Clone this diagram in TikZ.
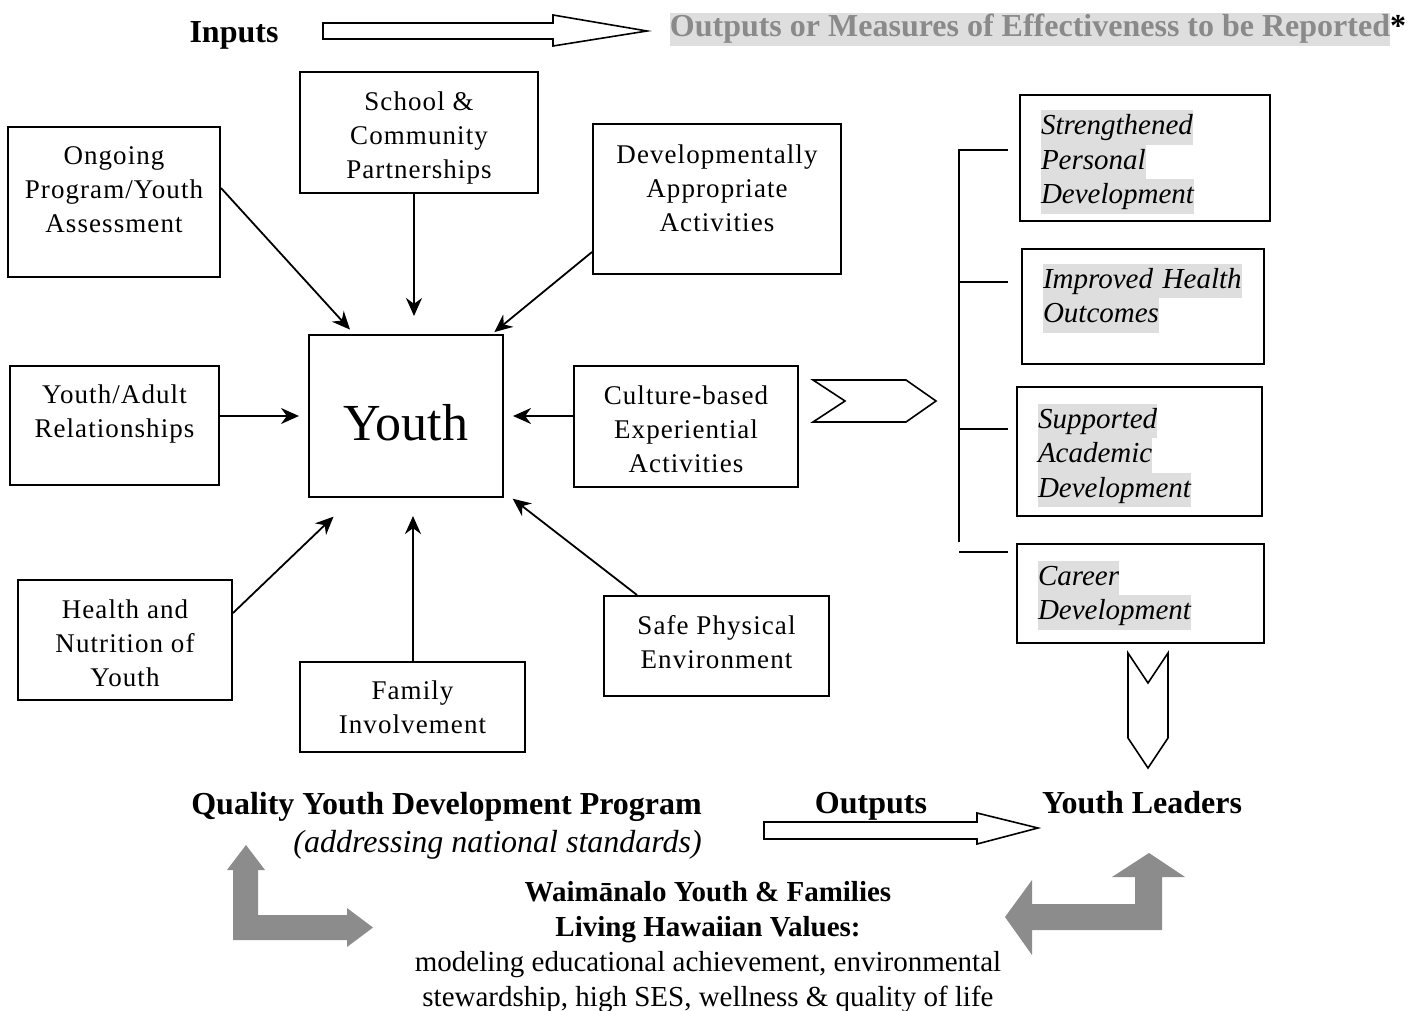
\documentclass[tikz,border=0pt]{standalone}
\usepackage{fontspec}
\setmainfont{Liberation Serif}
\newfontfamily\cardfont[LetterSpace=4]{Liberation Serif}
\usepackage{tikz}
\usetikzlibrary{arrows.meta}

\definecolor{hlgray}{RGB}{222,222,222}
\definecolor{titlegray}{RGB}{138,138,138}
\definecolor{bandgray}{RGB}{140,140,140}

\newcommand{\hlite}[1]{{\setlength{\fboxsep}{0pt}\colorbox{hlgray}{\strut#1}}}

\begin{document}
\begin{tikzpicture}[x=1pt, y=-1pt,
        card/.style={draw, line width=2pt, align=center, inner sep=0pt, font=\cardfont\fontsize{27}{34}\selectfont},
        goal/.style={draw, line width=2pt, align=left, inner xsep=21pt, inner ysep=0pt, font=\itshape\fontsize{29}{34.5}\selectfont},
        lifted/.style={text depth=#1},
        sunk/.style={text height=#1, text depth=0pt},
        feed/.style={line width=1.8pt, -{Stealth[length=18pt, width=16pt]}},
        hollow/.style={draw, line width=1.6pt, fill=white},
        band/.style={fill=bandgray},
        caption/.style={font=\bfseries\fontsize{32}{33}\selectfont}]
        \useasboundingbox (0,0) rectangle (1421,1011);

        \node[caption] (inputs) at (234,35) {Inputs};
        \node[caption, text=titlegray, inner sep=0pt] (measures) at (1038,30) {\hlite{Outputs or Measures of Effectiveness to be Reported}\textcolor{black}{*}};
        \draw[hollow] (323,23) -- (553,23) -- (553,15) -- (647,31) -- (553,46) -- (553,39) -- (323,39) -- cycle;

        % inputs around the youth box
        \node[card, minimum width=212pt, minimum height=150pt, lifted=25pt] (ongoing) at (114,202) {Ongoing\\Program/Youth\\Assessment};
        \node[card, minimum width=238pt, minimum height=121pt, sunk=92.4pt] (school) at (419,132.5) {School \&\\Community\\Partnerships};
        \node[card, minimum width=248pt, minimum height=150pt, lifted=22pt] (devel) at (717,199) {Developmentally\\Appropriate\\Activities};
        \node[card, minimum width=209pt, minimum height=119pt, lifted=28pt] (bonds) at (114.5,425.5) {Youth/Adult\\Relationships};
        \node[card, minimum width=194pt, minimum height=162pt, font=\rmfamily\fontsize{52}{60}\selectfont, text height=48pt, text depth=0pt] (youth) at (406,416) {Youth};
        \node[card, minimum width=224pt, minimum height=121pt, sunk=92.4pt] (culture) at (686,426.5) {Culture-based\\Experiential\\Activities};
        \node[card, minimum width=214pt, minimum height=120pt, sunk=93.5pt] (health) at (125,640) {Health and\\Nutrition of\\Youth};
        \node[card, minimum width=225pt, minimum height=90pt] (family) at (412.5,707) {Family\\Involvement};
        \node[card, minimum width=225pt, minimum height=100pt, lifted=8pt] (safe) at (716.5,646) {Safe Physical\\Environment};

        \draw[feed, shorten >=6pt] (ongoing.east |- 0,188) -- (youth.north -| 354,0);
        \draw[feed, shorten >=18pt] (school.south -| 414,0) -- (youth.north -| 414,0);
        \draw[feed, shorten >=3pt] (devel.west |- 0,252) -- (youth.north -| 492,0);
        \draw[feed, shorten >=9pt] (bonds.east |- 0,416) -- (youth.west |- 0,416);
        \draw[feed, shorten >=9pt] (culture.west |- 0,416) -- (youth.east |- 0,416);
        \draw[feed, shorten >=27pt] (health.east |- 0,613) -- (youth.south -| 353,0);
        \draw[feed, shorten >=18pt] (family.north -| 413,0) -- (youth.south -| 413,0);
        \draw[feed, shorten >=11pt] (safe.north -| 637,0) -- (youth.east |- 0,492);

        \draw[hollow] (813,380) -- (906,380) -- (936,401) -- (906,422) -- (813,422) -- (845,401) -- cycle;

        % outcomes
        \node[goal, text width=208pt, minimum height=126pt, lifted=71pt] (personal) at (1145,158) {\hlite{Strengthened}\\\hlite{Personal}\\\hlite{Development}};
        \node[goal, text width=200pt, minimum height=115pt, lifted=61pt] (wellbeing) at (1143,306.5) {\hlite{Improved Health}\\\hlite{Outcomes}};
        \node[goal, text width=203pt, minimum height=129pt, lifted=71pt] (academic) at (1139.5,451.5) {\hlite{Supported}\\\hlite{Academic}\\\hlite{Development}};
        \node[goal, text width=205pt, minimum height=99pt, lifted=41pt] (career) at (1140.5,593.5) {\hlite{Career}\\\hlite{Development}};

        \draw[line width=2pt] (1008,150) -- (959,150) -- (959,542);
        \draw[line width=2pt] (959,282) -- (1008,282);
        \draw[line width=2pt] (959,429) -- (1008,429);
        \draw[line width=2pt] (959,552) -- (1008,552);

        \draw[hollow] (1128,653) -- (1148,683) -- (1168,653) -- (1168,738) -- (1148,768) -- (1128,738) -- cycle;

        % bottom row
        \node[caption, align=right, anchor=east, inner sep=0pt, font=\fontsize{32}{38}\selectfont] (program) at (702,826) {\textbf{Quality Youth Development Program}\\\textit{(addressing national standards)}};
        \node[caption] (outputs) at (871,806) {Outputs};
        \node[caption] (leaders) at (1142,803) {Youth Leaders};
        \draw[hollow] (764,822) -- (977,822) -- (977,813) -- (1038,828) -- (977,844) -- (977,839) -- (764,839) -- cycle;

        \node[align=center, inner sep=0pt, font=\fontsize{29}{35}\selectfont] (values) at (708,947) {\textbf{Waimānalo Youth \& Families}\\\textbf{Living Hawaiian Values:}\\modeling educational achievement, environmental\\stewardship, high SES, wellness \& quality of life};

        \fill[band] (246,845) -- (265,870) -- (258,870) -- (258,915) -- (347,915) -- (347,908) -- (373,927.5) -- (347,947) -- (347,940) -- (233,940) -- (233,870) -- (227,870) -- cycle;
        \fill[band] (1005,917) -- (1032,880) -- (1032,904) -- (1135,904) -- (1135,877) -- (1112,877) -- (1149,853) -- (1185,877) -- (1162,877) -- (1162,930) -- (1032,930) -- (1032,955) -- cycle;
\end{tikzpicture}
\end{document}
